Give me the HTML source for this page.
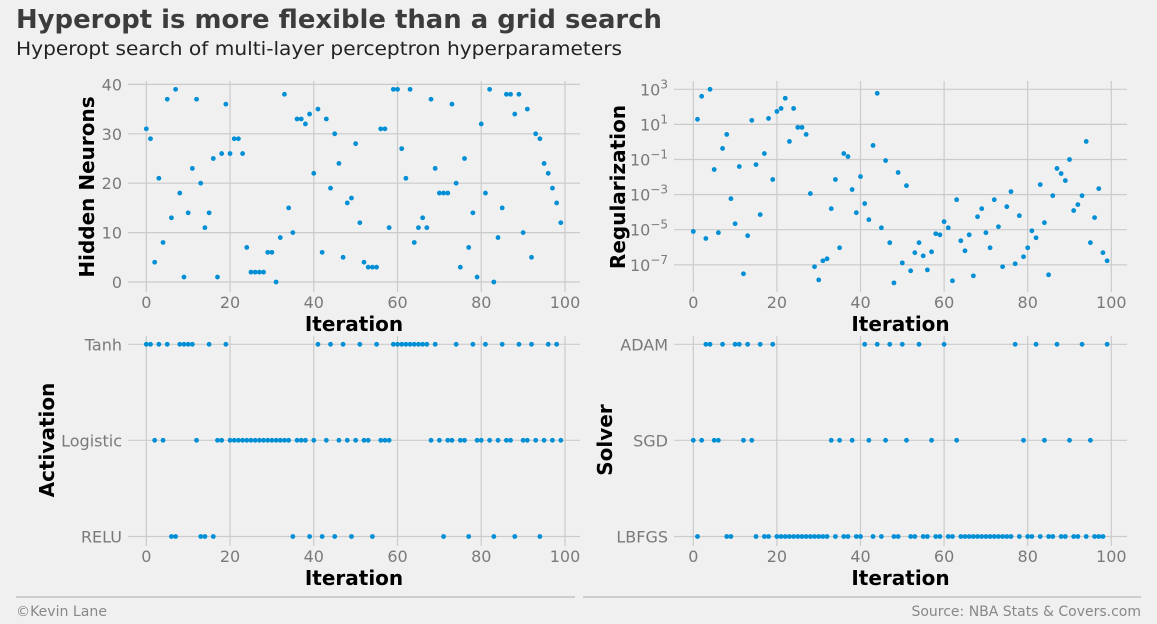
<!DOCTYPE html>
<html><head><meta charset="utf-8"><style>
html,body{margin:0;padding:0;background:#f0f0f0;}
svg{display:block;font-family:"DejaVu Sans","Liberation Sans",sans-serif;}
</style></head><body>
<svg id="chart" width="1157" height="624" viewBox="0 0 1157 624" xmlns="http://www.w3.org/2000/svg">
<rect width="1157" height="624" fill="#f0f0f0"/>
<text x="16" y="28" font-size="26" font-weight="bold" fill="#3c3c3c" textLength="646" lengthAdjust="spacingAndGlyphs">Hyperopt is more flexible than a grid search</text>
<text x="16" y="55" font-size="19" fill="#222" textLength="606" lengthAdjust="spacingAndGlyphs">Hyperopt search of multi-layer perceptron hyperparameters</text>
<g id="plots"></g>
<line x1="16" y1="597" x2="575" y2="597" stroke="#aaa" stroke-width="1"/>
<line x1="583" y1="597" x2="1141" y2="597" stroke="#aaa" stroke-width="1"/>
<text x="16" y="616" font-size="14" fill="#888" textLength="91" lengthAdjust="spacingAndGlyphs">©Kevin Lane</text>
<text x="1141" y="616" font-size="14" fill="#888" text-anchor="end">Source: NBA Stats &amp; Covers.com</text>
</svg>
<script>
const xTicks = [0, 20, 40, 60, 80, 100];
const neuronTicks = [0, 10, 20, 30, 40];
const regTickExps = [3, 1, -1, -3, -5, -7];
const neurons = [31,29,4,21,8,37,13,39,18,1, 14,23,37,20,11,14,25,1,26,36, 26,29,29,26,7,2,2,2,2,6, 6,0,9,38,15,10,33,33,32,34, 22,35,6,33,19,30,24,5,16,17, 28,12,4,3,3,3,31,31,11,39, 39,27,21,39,8,11,13,11,37,23, 18,18,18,36,20,3,25,7,14,1, 32,18,39,0,9,15,38,38,34,38, 10,35,5,30,29,24,22,19,16,12];
const regLog10 = [-5.1,1.29,2.6,-5.5,3.0,-1.57,-5.17,-0.37,0.43,-3.23, -4.66,-1.4,-7.51,-5.34,1.23,-1.29,-4.14,-0.66,1.34,-2.14, 1.74,1.91,2.49,0.03,1.91,0.83,0.83,0.43,-2.94,-7.11, -7.86,-6.77,-6.66,-3.8,-2.14,-6.03,-0.66,-0.83,-2.71,-4.03, -1.97,-3.51,-4.43,-0.2,2.77,-4.89,-1.06,-5.74,-8.03,-1.74, -6.89,-2.49,-7.34,-6.31,-5.74,-6.49,-7.29,-6.26,-5.23,-5.29, -4.54,-4.89,-7.91,-3.29,-5.63,-6.2,-5.29,-7.63,-4.26,-3.8, -5.17,-6.03,-3.29,-4.83,-7.11,-3.69,-2.83,-6.94,-4.2,-6.54, -6.03,-5.06,-5.46,-2.43,-4.6,-7.57,-3.06,-1.51,-1.8,-2.2, -1.0,-3.91,-3.57,-3.06,0.03,-5.74,-4.31,-2.66,-6.31,-6.77];
const activationCats = ["Tanh", "Logistic", "RELU"];
const activation = "TTLTLTRRTT TTLRRTRLLT LLLLLLLLLL LLLLLRLLLR LTRLTRLTLR LTLLRTLLLT TTTTTTTTLT LRLLTLLRTL LTLRLTLLRT LLTLRLTLTL".replace(/ /g,"").split("").map(c => ({T:"Tanh",L:"Logistic",R:"RELU"})[c]);
const solverCats = ["ADAM", "SGD", "LBFGS"];
const solver = "SBSAASSABB AASASBABBA BBBBBBBBBB BBBSBSBBSB BASBABSABB ASBBABBSBB ABBSBBBBBB BBBBBBBABS BBABSBBABB SBBABSBBBA".replace(/ /g,"").split("").map(c => ({A:"ADAM",S:"SGD",B:"LBFGS"})[c]);

const NS = "http://www.w3.org/2000/svg";
const root = document.getElementById("plots");
function mk(tag, attrs, parent) {
  const e = document.createElementNS(NS, tag);
  for (const k in attrs) e.setAttribute(k, attrs[k]);
  (parent || root).appendChild(e);
  return e;
}
const GRID = "#cbcbcb", TICK = "#7a7a7a", DOT = "#008fd5";
const xL = i => 146.3 + 4.187 * i;
const xR = i => 693.3 + 4.18 * i;
const yNeur = v => 282 - 4.94 * v;
const yReg = e => 89.3 + 17.55 * (3 - e);
const catY = [344.3, 440.3, 536.5];

function panel(name, xf, left, right, top, bottom, yTickVals, yf, yLabelFn, labelRight, xTickBase, iterY, yTitle, yTitleX, yTitleY, vals, yValFn) {
  const g = mk("g", {});
  
  
  yTickVals.forEach((t, k) => {
    const y = yf(t, k);
    const l = mk("line", {x1: left, x2: right, y1: y, y2: y, stroke: GRID, "stroke-width": 1.2}, g);
    
    
    const tx = mk("text", {x: labelRight, y: y + 6, "font-size": 16, fill: TICK, "text-anchor": "end"}, g);
    
    
    yLabelFn(tx, t);
  });
  xTicks.forEach(t => {
    const x = xf(t);
    const l = mk("line", {x1: x, x2: x, y1: top, y2: bottom, stroke: GRID, "stroke-width": 1.2}, g);
    
    
    const tx = mk("text", {x: x, y: xTickBase, "font-size": 16, fill: TICK, "text-anchor": "middle"}, g);
    
    
    tx.textContent = t;
  });
  const xt = mk("text", {x: (left + right) / 2, y: iterY, "font-size": 20, "font-weight": "bold", fill: "#000", "text-anchor": "middle"}, g);
  
  
  xt.textContent = "Iteration";
  const yt = mk("text", {x: 0, y: 0, "font-size": 20, "font-weight": "bold", fill: "#000", "text-anchor": "middle", transform: `translate(${yTitleX},${yTitleY}) rotate(-90)`}, g);
  
  
  yt.textContent = yTitle;
  vals.forEach((v, i) => {
    const c = mk("circle", {cx: xf(i), cy: yValFn(v), r: 2.4, fill: DOT}, g);
    
    
  });
}

panel("hidden-neurons-panel", xL, 128, 580, 81, 292, neuronTicks, t => yNeur(t),
  (tx, t) => { tx.textContent = t; }, 122, 308, 331, "Hidden Neurons", 94, 187, neurons, yNeur);

panel("regularization-panel", xR, 674, 1127, 81, 292, regTickExps, t => yReg(t),
  (tx, t) => {
    tx.textContent = "10";
    const s = document.createElementNS(NS, "tspan");
    s.setAttribute("dy", "-7"); s.setAttribute("font-size", "12");
    s.textContent = t < 0 ? "\u2212" + (-t) : String(t);
    tx.appendChild(s);
  }, 668, 308, 331, "Regularization", 625, 187, regLog10, yReg);

panel("activation-panel", xL, 128, 580, 336, 546, activationCats, (t, k) => catY[k],
  (tx, t) => { tx.textContent = t; }, 122, 562, 585, "Activation", 54, 440,
  activation, v => catY[activationCats.indexOf(v)]);

panel("solver-panel", xR, 674, 1127, 336, 546, solverCats, (t, k) => catY[k],
  (tx, t) => { tx.textContent = t; }, 668, 562, 585, "Solver", 612, 440,
  solver, v => catY[solverCats.indexOf(v)]);
</script>
</body></html>
